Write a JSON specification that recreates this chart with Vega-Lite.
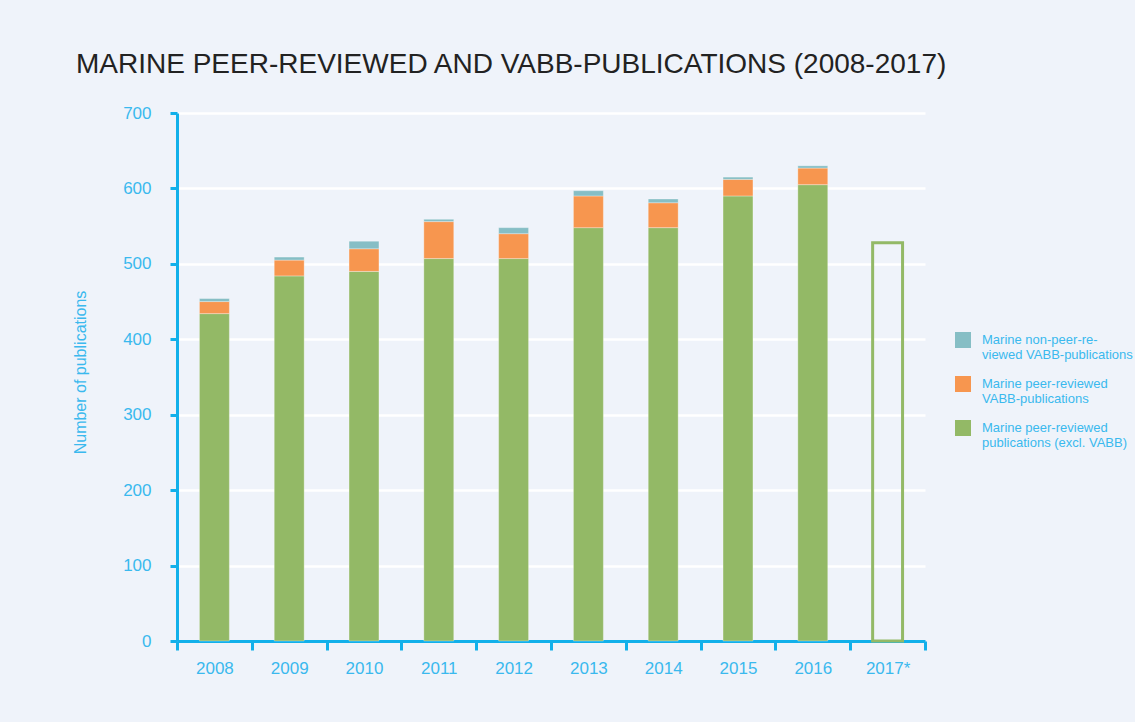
{
  "$schema": "https://vega.github.io/schema/vega-lite/v6.json",
  "width": 748,
  "height": 528,
  "autosize": "none",
  "padding": {"left": 177, "top": 113, "right": 210, "bottom": 81},
  "background": "#eff3fa",
  "title": {
    "text": "MARINE PEER-REVIEWED AND VABB-PUBLICATIONS (2008-2017)",
    "anchor": "start",
    "frame": "group",
    "dx": -101,
    "offset": 25,
    "font": "Liberation Sans",
    "fontSize": 28,
    "fontWeight": "normal",
    "color": "#222222"
  },
  "config": {
    "view": {"stroke": null},
    "font": "Liberation Sans",
    "axis": {
      "domainColor": "#12b0ea",
      "tickColor": "#12b0ea",
      "domainWidth": 3,
      "tickWidth": 3,
      "labelColor": "#3ab9ee",
      "labelFont": "Liberation Sans",
      "labelFontSize": 17,
      "titleColor": "#3ab9ee",
      "titleFont": "Liberation Sans",
      "titleFontWeight": "normal"
    }
  },
  "layer": [
    {
      "data": {
        "values": [
          {"year": "2008", "category": "Marine peer-reviewed publications (excl. VABB)", "count": 434},
          {"year": "2008", "category": "Marine peer-reviewed VABB-publications", "count": 16},
          {"year": "2008", "category": "Marine non-peer-reviewed VABB-publications", "count": 4},
          {"year": "2009", "category": "Marine peer-reviewed publications (excl. VABB)", "count": 484},
          {"year": "2009", "category": "Marine peer-reviewed VABB-publications", "count": 21},
          {"year": "2009", "category": "Marine non-peer-reviewed VABB-publications", "count": 4},
          {"year": "2010", "category": "Marine peer-reviewed publications (excl. VABB)", "count": 490},
          {"year": "2010", "category": "Marine peer-reviewed VABB-publications", "count": 30},
          {"year": "2010", "category": "Marine non-peer-reviewed VABB-publications", "count": 10},
          {"year": "2011", "category": "Marine peer-reviewed publications (excl. VABB)", "count": 507},
          {"year": "2011", "category": "Marine peer-reviewed VABB-publications", "count": 49},
          {"year": "2011", "category": "Marine non-peer-reviewed VABB-publications", "count": 3},
          {"year": "2012", "category": "Marine peer-reviewed publications (excl. VABB)", "count": 507},
          {"year": "2012", "category": "Marine peer-reviewed VABB-publications", "count": 33},
          {"year": "2012", "category": "Marine non-peer-reviewed VABB-publications", "count": 8},
          {"year": "2013", "category": "Marine peer-reviewed publications (excl. VABB)", "count": 548},
          {"year": "2013", "category": "Marine peer-reviewed VABB-publications", "count": 42},
          {"year": "2013", "category": "Marine non-peer-reviewed VABB-publications", "count": 7},
          {"year": "2014", "category": "Marine peer-reviewed publications (excl. VABB)", "count": 548},
          {"year": "2014", "category": "Marine peer-reviewed VABB-publications", "count": 33},
          {"year": "2014", "category": "Marine non-peer-reviewed VABB-publications", "count": 5},
          {"year": "2015", "category": "Marine peer-reviewed publications (excl. VABB)", "count": 590},
          {"year": "2015", "category": "Marine peer-reviewed VABB-publications", "count": 22},
          {"year": "2015", "category": "Marine non-peer-reviewed VABB-publications", "count": 3},
          {"year": "2016", "category": "Marine peer-reviewed publications (excl. VABB)", "count": 605},
          {"year": "2016", "category": "Marine peer-reviewed VABB-publications", "count": 22},
          {"year": "2016", "category": "Marine non-peer-reviewed VABB-publications", "count": 3}
        ]
      },
      "mark": {"type": "bar", "width": {"band": 0.4}, "stroke": "white", "strokeOpacity": 0.3, "strokeWidth": 1},
      "encoding": {
        "x": {
          "field": "year",
          "type": "nominal",
          "scale": {
            "domain": ["2008", "2009", "2010", "2011", "2012", "2013", "2014", "2015", "2016", "2017*"],
            "paddingInner": 0,
            "paddingOuter": 0
          },
          "axis": {
            "title": null,
            "labelAngle": 0,
            "tickBand": "extent",
            "tickSize": 9,
            "labelPadding": 10,
            "grid": false
          }
        },
        "y": {
          "field": "count",
          "type": "quantitative",
          "stack": "zero",
          "scale": {"domain": [0, 700], "nice": false},
          "axis": {
            "title": "Number of publications",
            "titleFontSize": 16,
            "titleX": -97,
            "titleY": 259,
            "titleBaseline": "middle",
            "values": [0, 100, 200, 300, 400, 500, 600, 700],
            "tickSize": 7,
            "labelPadding": 19,
            "grid": true,
            "gridColor": "#ffffff",
            "gridWidth": 2.5,
            "gridOpacity": 1
          }
        },
        "color": {
          "field": "category",
          "type": "nominal",
          "scale": {
            "domain": [
              "Marine non-peer-reviewed VABB-publications",
              "Marine peer-reviewed VABB-publications",
              "Marine peer-reviewed publications (excl. VABB)"
            ],
            "range": ["#86bec5", "#f7964f", "#93b966"]
          },
          "legend": {
            "orient": "none",
            "legendX": 778,
            "legendY": 219,
            "title": null,
            "symbolType": "square",
            "symbolSize": 256,
            "symbolStrokeWidth": 0,
            "labelFont": "Liberation Sans",
            "labelFontSize": 13,
            "labelColor": "#3ab9ee",
            "labelLimit": 220,
            "labelLineHeight": 15,
            "labelOffset": 11,
            "rowPadding": 14,
            "labelExpr": "datum.label == 'Marine non-peer-reviewed VABB-publications' ? ['Marine non-peer-re-', 'viewed VABB-publications'] : datum.label == 'Marine peer-reviewed VABB-publications' ? ['Marine peer-reviewed', 'VABB-publications'] : ['Marine peer-reviewed', 'publications (excl. VABB)']"
          }
        },
        "order": {"field": "category", "sort": "descending"}
      }
    },
    {
      "data": {"values": [{"year": "2017*", "count": 528}]},
      "mark": {"type": "bar", "width": {"band": 0.4}, "filled": false, "stroke": "#93b966", "strokeWidth": 3},
      "encoding": {
        "x": {"field": "year", "type": "nominal"},
        "y": {"field": "count", "type": "quantitative"}
      }
    }
  ]
}
